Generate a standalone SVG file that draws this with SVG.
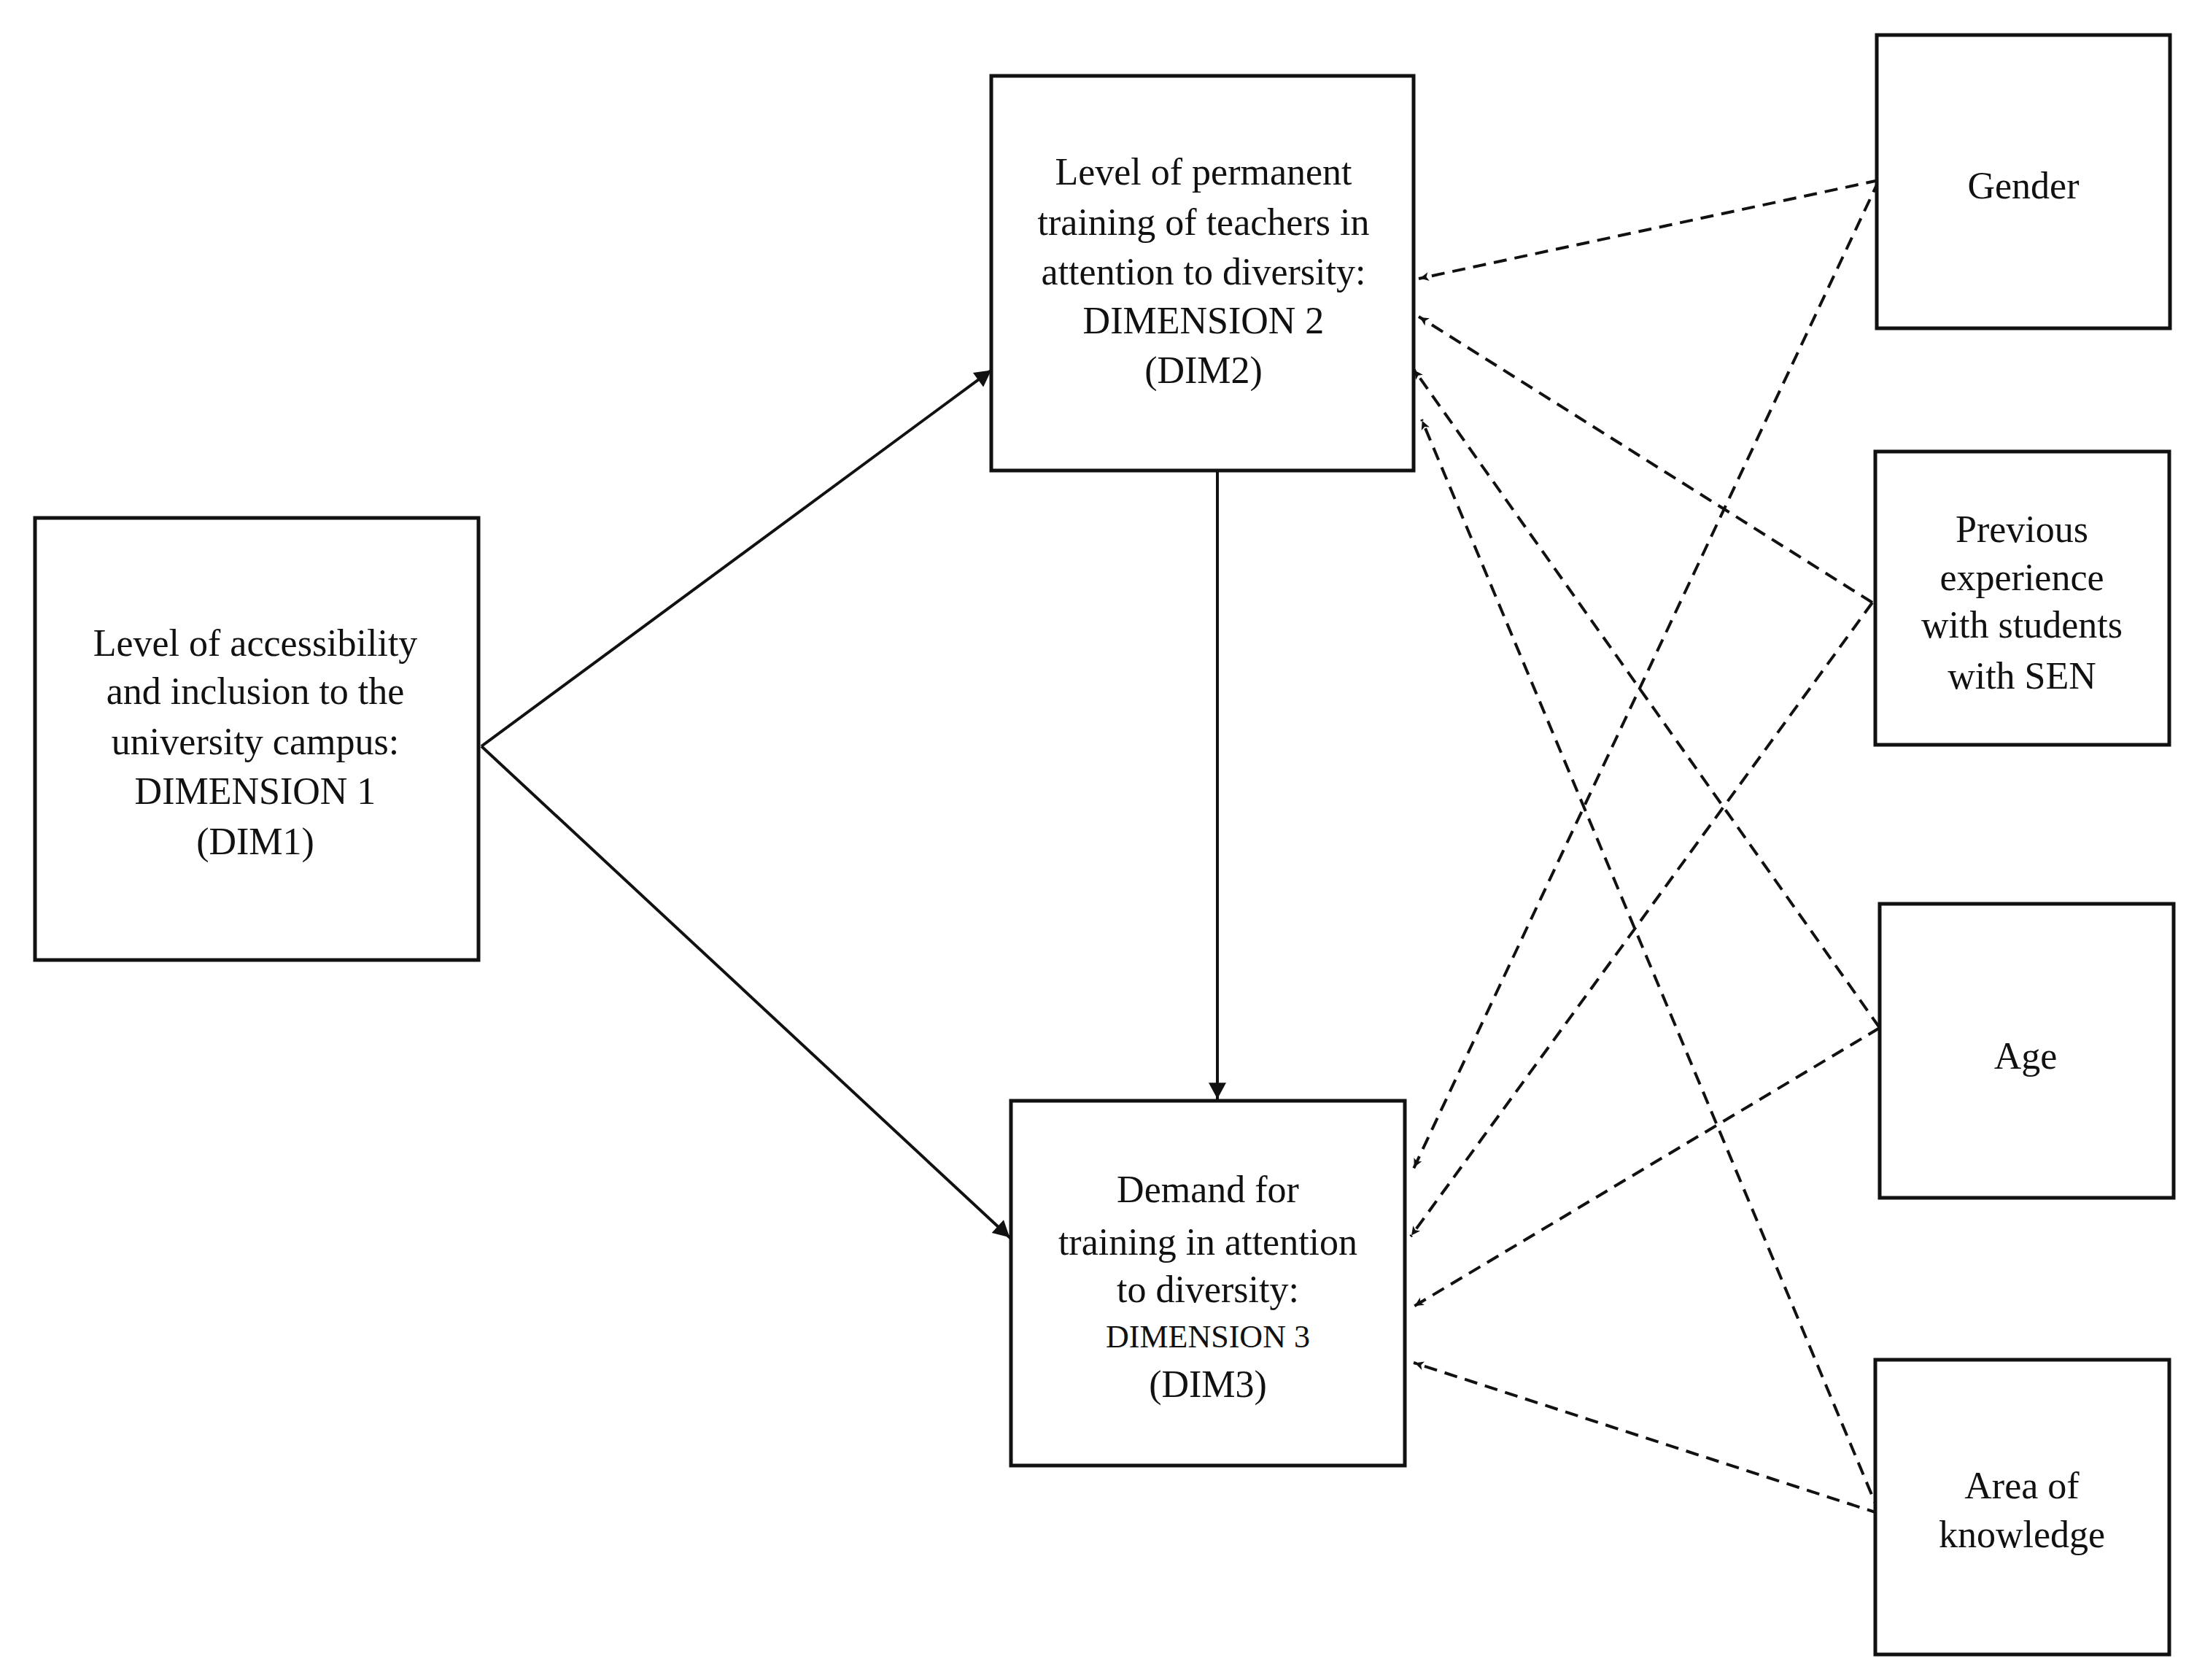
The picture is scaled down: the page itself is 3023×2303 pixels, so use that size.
<svg xmlns="http://www.w3.org/2000/svg" width="3023" height="2303" viewBox="0 0 3023 2303">
<style>
.box{fill:#fff;stroke:#111;stroke-width:5}
.t{font-family:"Liberation Serif",serif;font-size:52px;fill:#111;text-anchor:middle}
.s{stroke:#111;stroke-width:4;fill:none;marker-end:url(#a)}
.d{stroke:#111;stroke-width:4;fill:none;stroke-dasharray:18 11;marker-end:url(#b)}
</style>
<defs>
<marker id="a" viewBox="0 0 10 10" refX="9" refY="5" markerWidth="8" markerHeight="8" markerUnits="userSpaceOnUse" orient="auto" style="overflow:visible"><path d="M-22,-10 L6,5 L-22,20 z" fill="#111"/></marker>
<marker id="b" viewBox="0 0 10 10" refX="9" refY="5" markerWidth="6" markerHeight="6" markerUnits="userSpaceOnUse" orient="auto" style="overflow:visible"><path d="M-14,-5 L6,5 L-14,15 L-9,5 z" fill="#111"/></marker>
</defs>
<rect width="3023" height="2303" fill="#fff"/>
<g id="connectors">
<line class="s" x1="660" y1="1023" x2="1361" y2="506"/>
<line class="s" x1="660" y1="1023" x2="1386" y2="1698"/>
<line class="s" x1="1669" y1="645" x2="1669" y2="1509"/>
<line class="d" x1="2576" y1="247" x2="1945" y2="382"/>
<line class="d" x1="2576" y1="247" x2="1938" y2="1602"/>
<line class="d" x1="2567" y1="826" x2="1945" y2="434"/>
<line class="d" x1="2567" y1="826" x2="1934" y2="1695"/>
<line class="d" x1="2577" y1="1409" x2="1938" y2="506"/>
<line class="d" x1="2577" y1="1409" x2="1938" y2="1791"/>
<line class="d" x1="2577" y1="2075" x2="1949" y2="575"/>
<line class="d" x1="2577" y1="2075" x2="1938" y2="1868"/>
</g>
<g id="dim1"><rect class="box" x="48" y="710" width="608" height="606"/>
<text class="t" x="350" y="899">Level of accessibility</text>
<text class="t" x="350" y="965">and inclusion to the</text>
<text class="t" x="350" y="1034">university campus:</text>
<text class="t" x="350" y="1102">DIMENSION 1</text>
<text class="t" x="350" y="1171">(DIM1)</text></g>
<g id="dim2"><rect class="box" x="1359" y="104" width="579" height="541"/>
<text class="t" x="1650" y="253">Level of permanent</text>
<text class="t" x="1650" y="322">training of teachers in</text>
<text class="t" x="1650" y="390">attention to diversity:</text>
<text class="t" x="1650" y="457">DIMENSION 2</text>
<text class="t" x="1650" y="525">(DIM2)</text></g>
<g id="dim3"><rect class="box" x="1386" y="1509" width="540" height="500"/>
<text class="t" x="1656" y="1648">Demand for</text>
<text class="t" x="1656" y="1720">training in attention</text>
<text class="t" x="1656" y="1785">to diversity:</text>
<text class="t" x="1656" y="1847" style="font-size:44px">DIMENSION 3</text>
<text class="t" x="1656" y="1915">(DIM3)</text></g>
<g id="gender"><rect class="box" x="2573" y="48" width="402" height="402"/>
<text class="t" x="2774" y="272">Gender</text></g>
<g id="previous"><rect class="box" x="2571" y="619" width="403" height="402"/>
<text class="t" x="2772" y="743">Previous</text>
<text class="t" x="2772" y="809">experience</text>
<text class="t" x="2772" y="874">with students</text>
<text class="t" x="2772" y="944">with SEN</text></g>
<g id="age"><rect class="box" x="2577" y="1239" width="403" height="403"/>
<text class="t" x="2777" y="1465">Age</text></g>
<g id="area"><rect class="box" x="2571" y="1864" width="403" height="404"/>
<text class="t" x="2772" y="2054">Area of</text>
<text class="t" x="2772" y="2121">knowledge</text></g>
</svg>
